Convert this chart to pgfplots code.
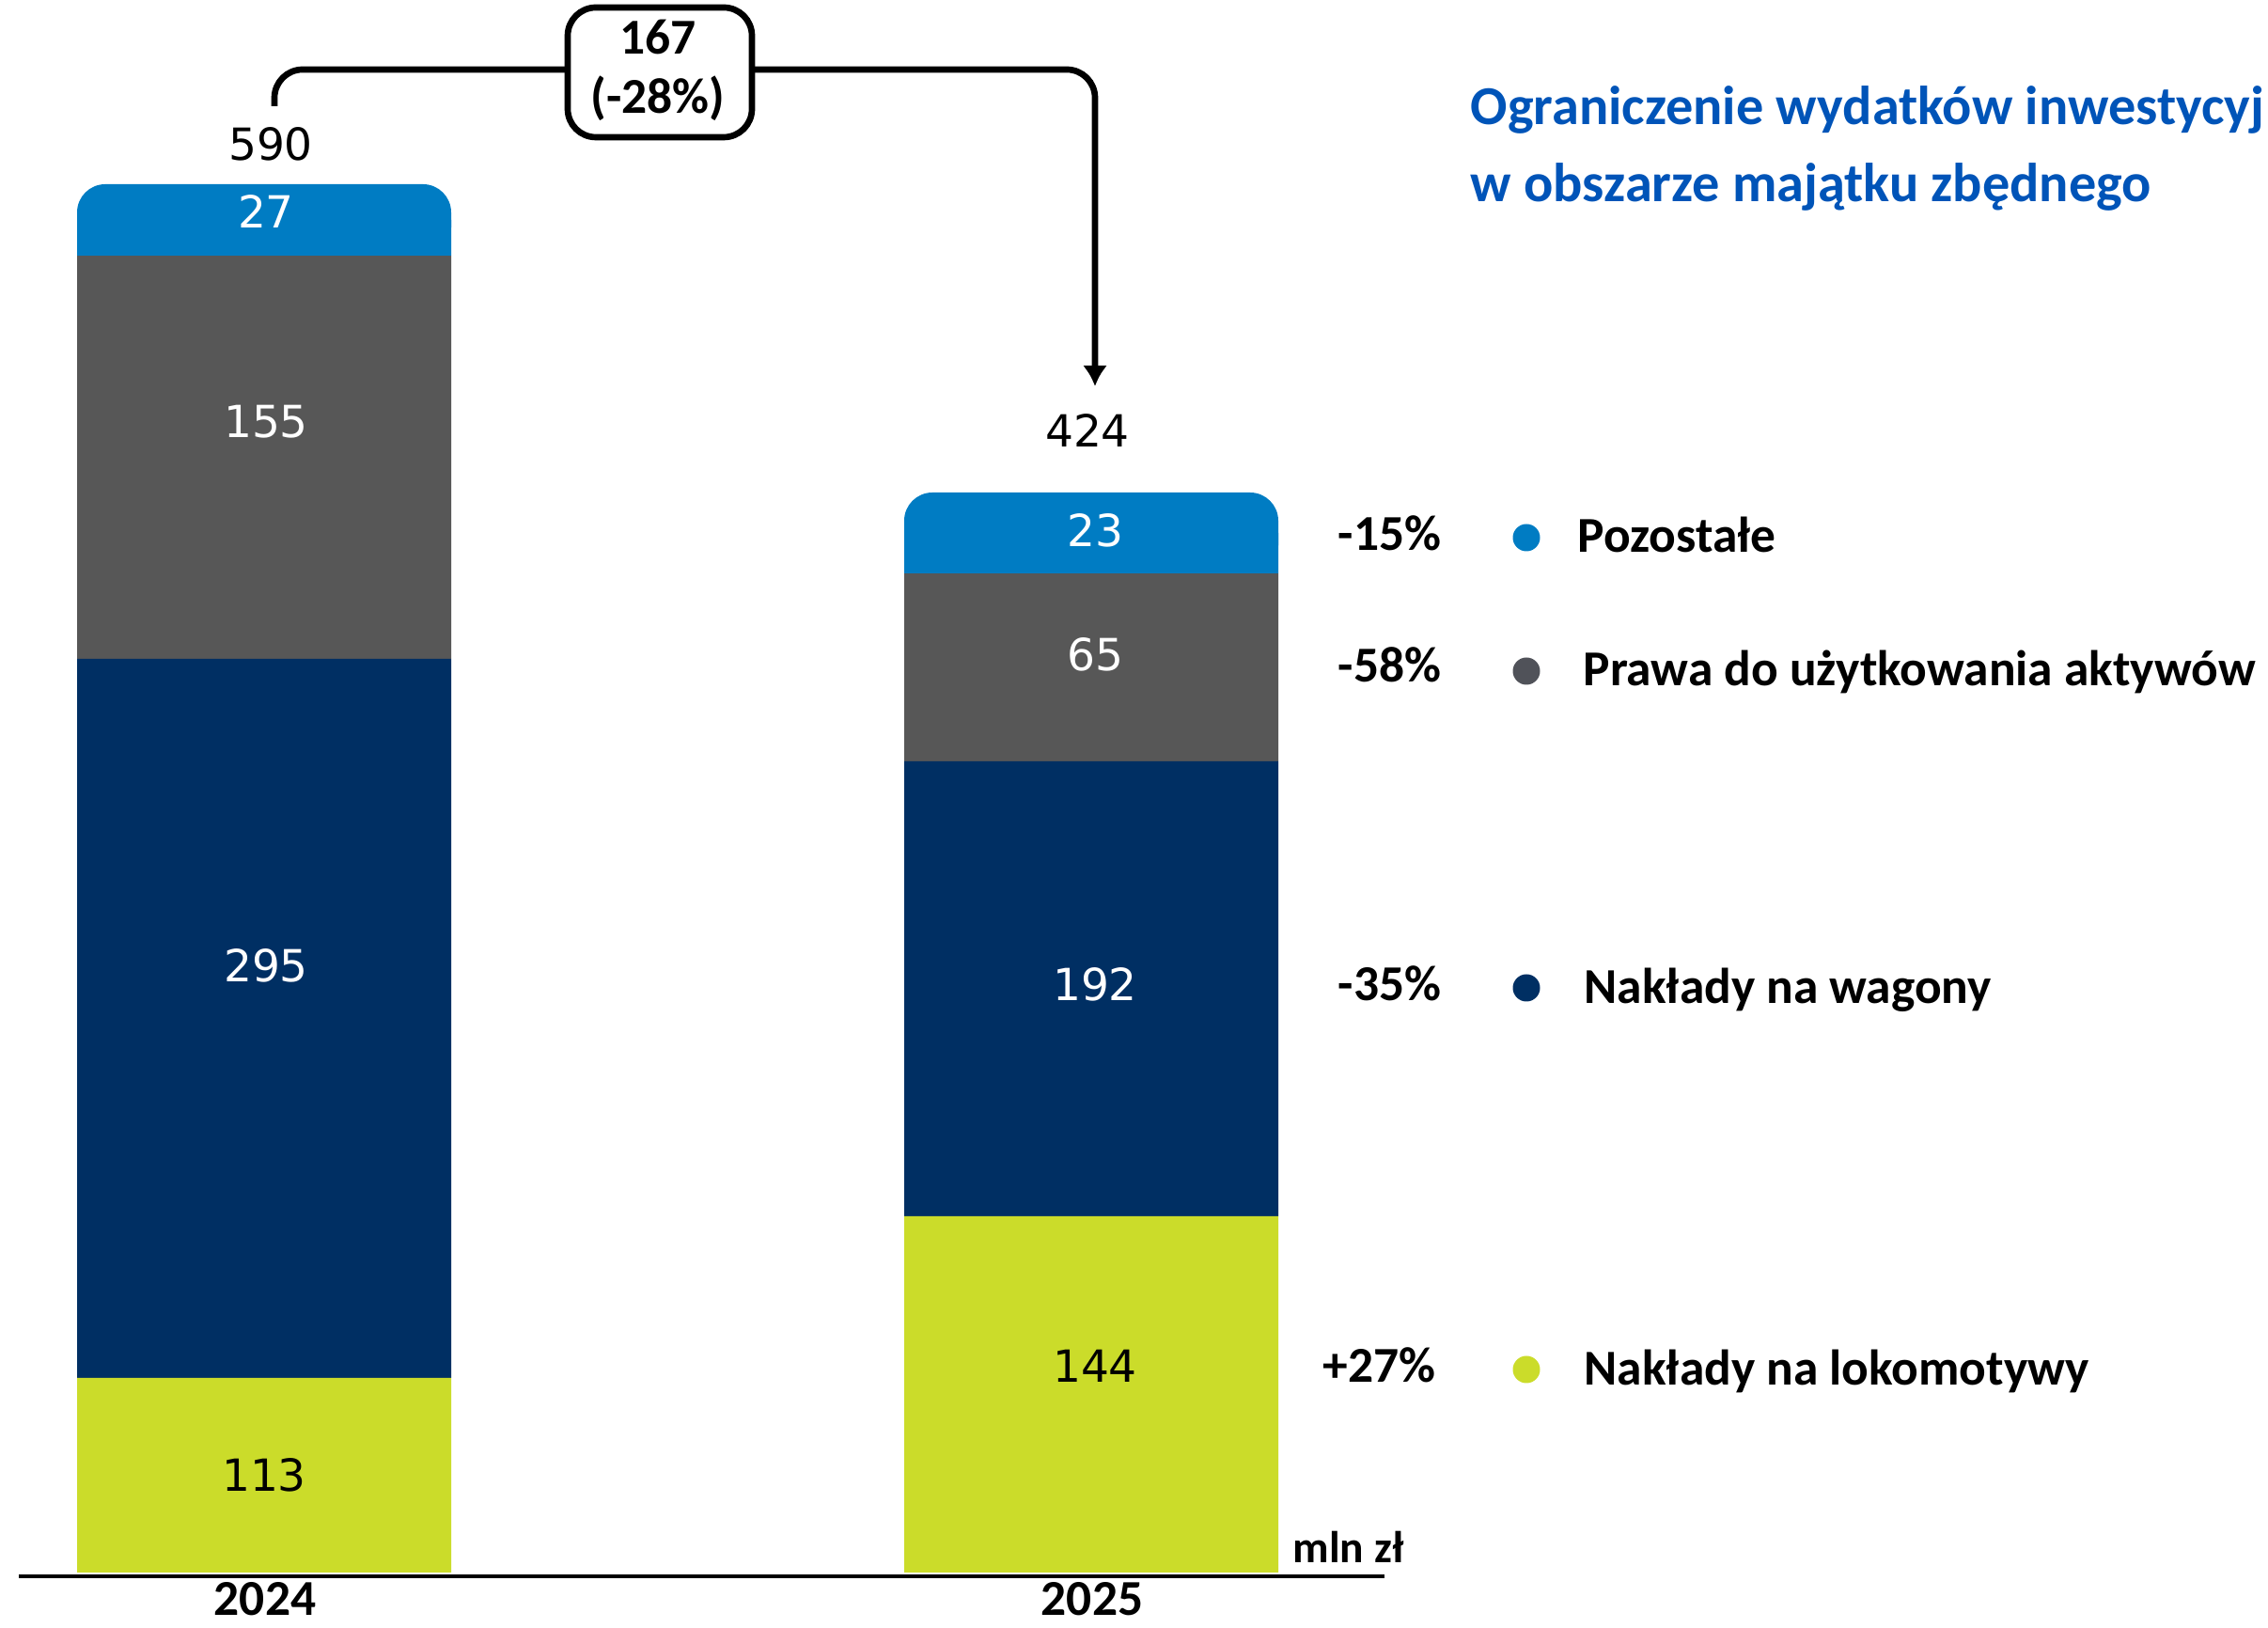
\documentclass[border=0pt]{standalone}
\usepackage{pgfplots}
\pgfplotsset{compat=1.18}
\usepackage{pgfplotstable}
\usepackage{fontspec}
\setmainfont{Carlito}
\newfontfamily\numfont{DejaVu Sans}
\usetikzlibrary{arrows.meta}

\definecolor{cBlue}{RGB}{0,124,195}
\definecolor{cGray}{RGB}{87,87,87}
\definecolor{cNavy}{RGB}{0,47,99}
\definecolor{cLime}{RGB}{203,220,42}
\definecolor{cTitle}{RGB}{0,84,184}
\definecolor{cDot}{RGB}{80,82,89}

% drawn segment heights (the slide is not to scale), bottom to top
\pgfplotstableread{
x    lime navy gray blue
281  207  765  429  76
1161 379  484  200  86
}\bars

\newcommand\lbl{\bfseries\fontsize{15.2}{18}\selectfont}
\newcommand\num{\numfont\fontsize{13.4}{16}\selectfont}

\pgfplotsset{
  canvas/.style={
    at={(0,0)}, anchor=south west,
    width=24.13cm, height=17.32cm, scale only axis,
    xmin=0, xmax=2413, ymin=-59, ymax=1673,
    axis lines=none, clip=false,
    ybar stacked, bar width=3.98cm,
  },
}

\newcommand\annotations{%
  % baseline
  \draw[line width=1.2pt] (axis cs:20,-4) -- (axis cs:1473,-4);
  % segment values
  \node[anchor=base, font=\num] at (axis cs:288,1502) {590};
  \node[anchor=base, font=\num] at (axis cs:1157,1197) {424};
  \node[anchor=base, font=\num, text=white] at (axis cs:283,1430) {27};
  \node[anchor=base, font=\num, text=white] at (axis cs:283,1207) {155};
  \node[anchor=base, font=\num, text=white] at (axis cs:283,628) {295};
  \node[anchor=base, font=\num] at (axis cs:281,86) {113};
  \node[anchor=base, font=\num, text=white] at (axis cs:1165,1091) {23};
  \node[anchor=base, font=\num, text=white] at (axis cs:1165,959) {65};
  \node[anchor=base, font=\num, text=white] at (axis cs:1165,608) {192};
  \node[anchor=base, font=\num] at (axis cs:1165,202) {144};
  % years and unit
  \node[anchor=base, inner sep=0pt, font=\lbl] at (axis cs:282,-46) {2024};
  \node[anchor=base, inner sep=0pt, font=\lbl] at (axis cs:1162,-46) {2025};
  \node[anchor=base west, inner sep=0pt, font=\bfseries\fontsize{13.5}{16}\selectfont] at (axis cs:1375,10) {mln zł};
  % change bracket
  \draw[line width=1.9pt, rounded corners=0.3cm, -{Latex[length=0.22cm,width=0.26cm]}]
    (axis cs:292,1560) -- (axis cs:292,1599) -- (axis cs:1165,1599) -- (axis cs:1165,1262);
  \draw[line width=1.9pt, rounded corners=0.3cm, fill=white]
    (axis cs:604,1527) rectangle (axis cs:800,1665);
  \node[anchor=base, font=\lbl] at (axis cs:700,1615) {167};
  \node[anchor=base, font=\lbl] at (axis cs:700,1552) {(-28\%)};
  % changes and legend
  \node[anchor=base east, inner sep=0pt, font=\lbl] at (axis cs:1534,1087) {-15\%};
  \node[anchor=base east, inner sep=0pt, font=\lbl] at (axis cs:1534,947) {-58\%};
  \node[anchor=base east, inner sep=0pt, font=\lbl] at (axis cs:1534,608) {-35\%};
  \node[anchor=base east, inner sep=0pt, font=\lbl] at (axis cs:1528,202) {+27\%};
  \fill[cBlue] (axis cs:1624,1101) circle[radius=0.145cm];
  \fill[cDot]  (axis cs:1624,959)  circle[radius=0.145cm];
  \fill[cNavy] (axis cs:1624,622)  circle[radius=0.145cm];
  \fill[cLime] (axis cs:1624,216)  circle[radius=0.145cm];
  \node[anchor=base west, inner sep=0pt, font=\lbl] at (axis cs:1678,1085) {Pozostałe};
  \node[anchor=base west, inner sep=0pt, font=\lbl] at (axis cs:1684,943) {Prawa do użytkowania aktywów};
  \node[anchor=base west, inner sep=0pt, font=\lbl] at (axis cs:1685,605) {Nakłady na wagony};
  \node[anchor=base west, inner sep=0pt, font=\lbl] at (axis cs:1685,199) {Nakłady na lokomotywy};
  % title
  \node[anchor=base west, inner sep=0pt, text=cTitle, font=\bfseries\fontsize{16.6}{20}\selectfont] at (axis cs:1564,1540) {Ograniczenie wydatków inwestycyj};
  \node[anchor=base west, inner sep=0pt, text=cTitle, font=\bfseries\fontsize{16.6}{20}\selectfont] at (axis cs:1564,1458) {w obszarze majątku zbędnego};
}

\begin{document}
\begin{tikzpicture}
\begin{axis}[canvas]
  \addplot[fill=cLime, draw=none] table[x=x, y=lime] {\bars};
  \addplot[fill=cNavy, draw=none] table[x=x, y=navy] {\bars};
  \addplot[fill=cGray, draw=none] table[x=x, y=gray] {\bars};
  \addplot[fill=cBlue, draw=none, rounded corners=0.3cm] table[x=x, y=blue] {\bars};
\end{axis}
% second pass: square off the lower corners of the top segment, then the texts
\begin{axis}[canvas, after end axis/.code={\annotations}]
  \addplot[draw=none, fill=none] table[x=x, y expr=\thisrow{lime}+\thisrow{navy}+\thisrow{gray}] {\bars};
  \addplot[fill=cBlue, draw=none] table[x=x, y expr=0.5*\thisrow{blue}] {\bars};
\end{axis}
\pgfresetboundingbox
\path (0,0) rectangle (24.13cm,17.32cm);
\end{tikzpicture}
\end{document}
